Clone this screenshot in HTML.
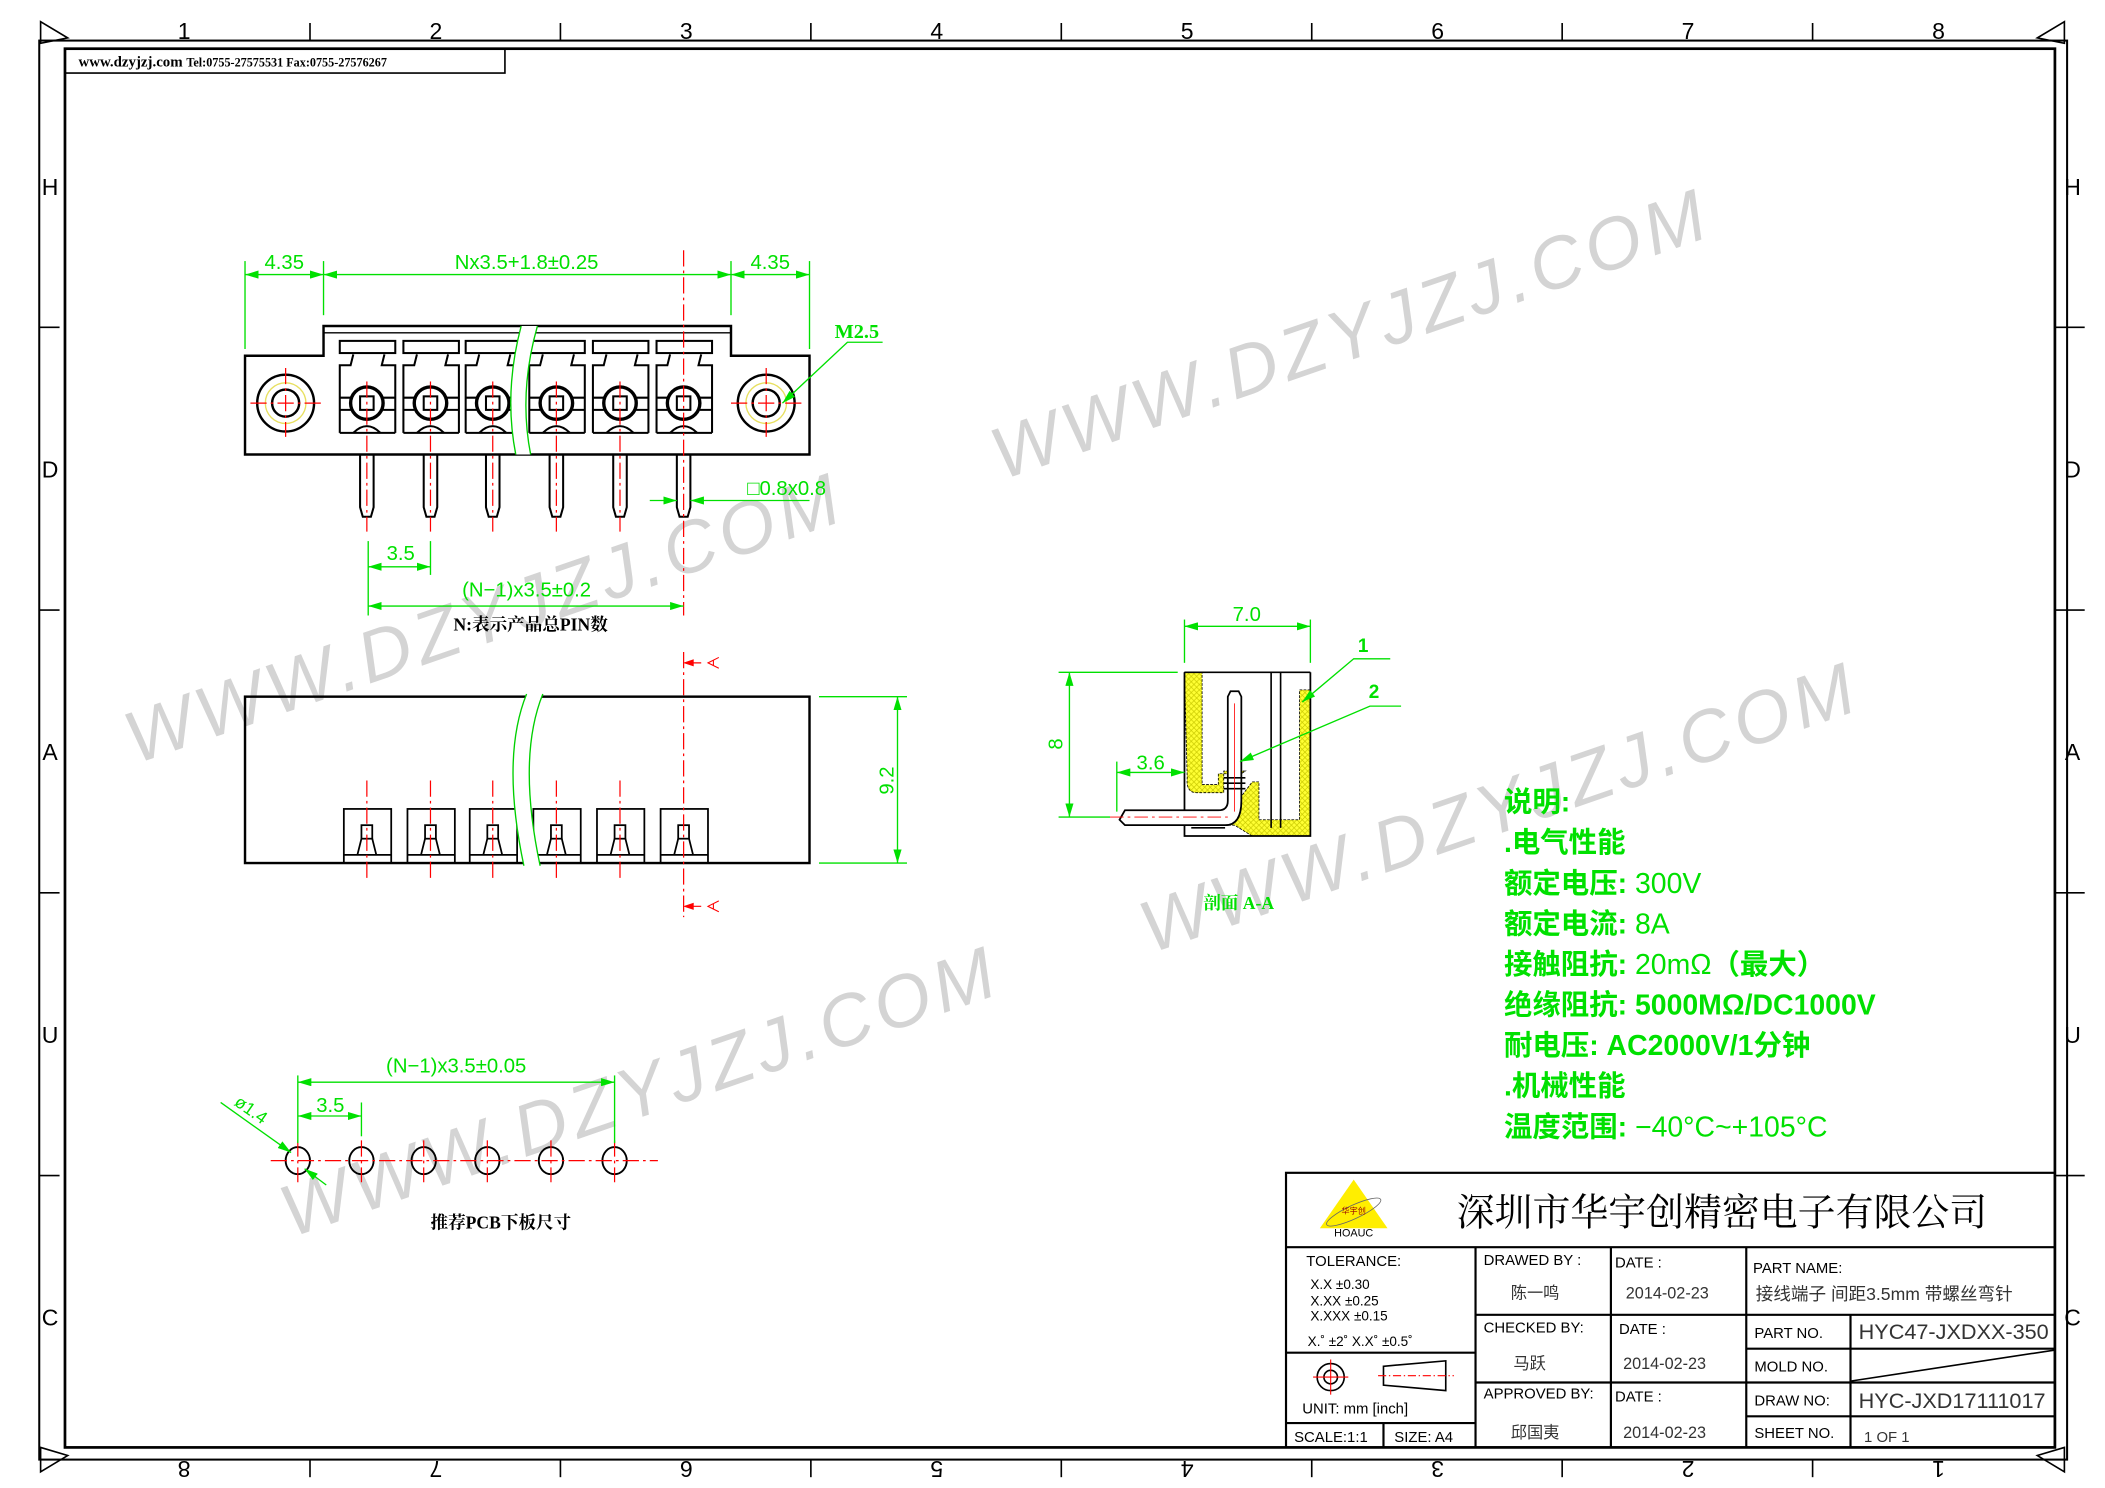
<!DOCTYPE html>
<html><head><meta charset="utf-8"><style>
html,body{margin:0;padding:0;background:#fff;}
svg{display:block;}
text{font-family:"Liberation Sans","Noto Sans CJK SC",sans-serif;}
.s{font-family:"Liberation Serif","Noto Serif CJK SC",serif;}
</style></head><body>
<svg width="2105" height="1488" viewBox="0 0 1555 1100" preserveAspectRatio="none" xmlns="http://www.w3.org/2000/svg">
<defs>
<marker id="ar" viewBox="0 0 10 6" refX="10" refY="3" markerWidth="10" markerHeight="6" orient="auto-start-reverse" markerUnits="userSpaceOnUse"><path d="M0,0L10,3L0,6z" fill="#00e000"/></marker>
<pattern id="hx" width="4" height="4" patternUnits="userSpaceOnUse"><rect width="4" height="4" fill="#ffff33"/><path d="M0,0L4,4M4,0L0,4" stroke="#c8c800" stroke-width="0.5"/></pattern>
</defs>
<rect width="1555" height="1100" fill="#fff"/>
<!-- watermarks -->
<g fill="#d4d4d4" font-size="54" letter-spacing="4" font-style="italic">
<text transform="translate(740,355) rotate(-19)">WWW.DZYJZJ.COM</text>
<text transform="translate(100,565) rotate(-19)">WWW.DZYJZJ.COM</text>
<text transform="translate(850,705) rotate(-19)">WWW.DZYJZJ.COM</text>
<text transform="translate(215,915) rotate(-19)">WWW.DZYJZJ.COM</text>
</g>
<!-- frame -->
<g fill="none" stroke="#000">
<rect x="29" y="30" width="1498" height="1049" stroke-width="1.5"/>
<rect x="48" y="36" width="1470" height="1034" stroke-width="2"/>
</g>
<g stroke="#000" stroke-width="1.2">
<line x1="229" y1="17" x2="229" y2="30"/><line x1="414" y1="17" x2="414" y2="30"/><line x1="599" y1="17" x2="599" y2="30"/><line x1="784" y1="17" x2="784" y2="30"/><line x1="969" y1="17" x2="969" y2="30"/><line x1="1154" y1="17" x2="1154" y2="30"/><line x1="1339" y1="17" x2="1339" y2="30"/>
<line x1="229" y1="1079" x2="229" y2="1092"/><line x1="414" y1="1079" x2="414" y2="1092"/><line x1="599" y1="1079" x2="599" y2="1092"/><line x1="784" y1="1079" x2="784" y2="1092"/><line x1="969" y1="1079" x2="969" y2="1092"/><line x1="1154" y1="1079" x2="1154" y2="1092"/><line x1="1339" y1="1079" x2="1339" y2="1092"/>
<line x1="29" y1="242" x2="44" y2="242"/><line x1="29" y1="451" x2="44" y2="451"/><line x1="29" y1="660" x2="44" y2="660"/><line x1="29" y1="869" x2="44" y2="869"/>
<line x1="1518" y1="242" x2="1540" y2="242"/><line x1="1518" y1="451" x2="1540" y2="451"/><line x1="1518" y1="660" x2="1540" y2="660"/><line x1="1518" y1="869" x2="1540" y2="869"/>
</g>
<g fill="none" stroke="#000" stroke-width="1.2">
<path d="M30,16L50,28L30,32z"/><path d="M1525,16L1505,28L1525,32z"/><path d="M30,1070L50,1076L30,1088z"/><path d="M1525,1070L1505,1076L1525,1088z"/>
</g>
<g font-size="17" fill="#000" text-anchor="middle">
<text x="136" y="29">1</text><text x="322" y="29">2</text><text x="507" y="29">3</text><text x="692" y="29">4</text><text x="877" y="29">5</text><text x="1062" y="29">6</text><text x="1247" y="29">7</text><text x="1432" y="29">8</text>
<g transform="rotate(180 136 1086)"><text x="136" y="1092">8</text></g>
<g transform="rotate(180 322 1086)"><text x="322" y="1092">7</text></g>
<g transform="rotate(180 507 1086)"><text x="507" y="1092">6</text></g>
<g transform="rotate(180 692 1086)"><text x="692" y="1092">5</text></g>
<g transform="rotate(180 877 1086)"><text x="877" y="1092">4</text></g>
<g transform="rotate(180 1062 1086)"><text x="1062" y="1092">3</text></g>
<g transform="rotate(180 1247 1086)"><text x="1247" y="1092">2</text></g>
<g transform="rotate(180 1432 1086)"><text x="1432" y="1092">1</text></g>
<text x="37" y="144">H</text><text x="37" y="353">D</text><text x="37" y="562">A</text><text x="37" y="771">U</text><text x="37" y="980">C</text>
<text x="1531" y="144">H</text><text x="1531" y="353">D</text><text x="1531" y="562">A</text><text x="1531" y="771">U</text><text x="1531" y="980">C</text>
</g>
<rect x="48" y="36" width="325" height="18" fill="none" stroke="#000" stroke-width="1.2"/>
<text x="58" y="49" class="s" font-size="11" font-weight="bold">www.dzyjzj.com <tspan font-size="9">Tel:0755-27575531  Fax:0755-27576267</tspan></text>

<!-- TOP VIEW -->
<g fill="none" stroke="#000" stroke-width="1.8">
<path d="M181,263H239V241H540V263H598V336H181z"/>
<line x1="239" y1="246" x2="540" y2="246" stroke-width="1"/>
<circle cx="211" cy="298" r="21"/><circle cx="211" cy="298" r="10"/>
<circle cx="566" cy="298" r="21"/><circle cx="566" cy="298" r="10"/>
</g>
<circle cx="211" cy="298" r="15" fill="none" stroke="#e8e060" stroke-width="1"/>
<circle cx="566" cy="298" r="15" fill="none" stroke="#e8e060" stroke-width="1"/>
<g fill="none" stroke="#000" stroke-width="1.5">
<g transform="translate(271,0)"><rect x="-20" y="252" width="41" height="9"/><path d="M-20,320V270H-12L-10,262M13,262L11,270H21V320M-20,320H21"/><circle cx="0" cy="298" r="12" stroke-width="2.5"/><rect x="-5" y="293" width="10" height="10"/><path d="M-20,294H-12M12,294H21M-20,303H-12M12,303H21"/><path d="M-10,320Q0,310 10,320" /><path d="M-5,336V375L-3,382H3L5,375V336"/></g>
<g transform="translate(318,0)"><rect x="-20" y="252" width="41" height="9"/><path d="M-20,320V270H-12L-10,262M13,262L11,270H21V320M-20,320H21"/><circle cx="0" cy="298" r="12" stroke-width="2.5"/><rect x="-5" y="293" width="10" height="10"/><path d="M-20,294H-12M12,294H21M-20,303H-12M12,303H21"/><path d="M-10,320Q0,310 10,320" /><path d="M-5,336V375L-3,382H3L5,375V336"/></g>
<g transform="translate(364,0)"><rect x="-20" y="252" width="41" height="9"/><path d="M-20,320V270H-12L-10,262M13,262L11,270H21V320M-20,320H21"/><circle cx="0" cy="298" r="12" stroke-width="2.5"/><rect x="-5" y="293" width="10" height="10"/><path d="M-20,294H-12M12,294H21M-20,303H-12M12,303H21"/><path d="M-10,320Q0,310 10,320" /><path d="M-5,336V375L-3,382H3L5,375V336"/></g>
<g transform="translate(411,0)"><rect x="-20" y="252" width="41" height="9"/><path d="M-20,320V270H-12L-10,262M13,262L11,270H21V320M-20,320H21"/><circle cx="0" cy="298" r="12" stroke-width="2.5"/><rect x="-5" y="293" width="10" height="10"/><path d="M-20,294H-12M12,294H21M-20,303H-12M12,303H21"/><path d="M-10,320Q0,310 10,320" /><path d="M-5,336V375L-3,382H3L5,375V336"/></g>
<g transform="translate(458,0)"><rect x="-20" y="252" width="41" height="9"/><path d="M-20,320V270H-12L-10,262M13,262L11,270H21V320M-20,320H21"/><circle cx="0" cy="298" r="12" stroke-width="2.5"/><rect x="-5" y="293" width="10" height="10"/><path d="M-20,294H-12M12,294H21M-20,303H-12M12,303H21"/><path d="M-10,320Q0,310 10,320" /><path d="M-5,336V375L-3,382H3L5,375V336"/></g>
<g transform="translate(505,0)"><rect x="-20" y="252" width="41" height="9"/><path d="M-20,320V270H-12L-10,262M13,262L11,270H21V320M-20,320H21"/><circle cx="0" cy="298" r="12" stroke-width="2.5"/><rect x="-5" y="293" width="10" height="10"/><path d="M-20,294H-12M12,294H21M-20,303H-12M12,303H21"/><path d="M-10,320Q0,310 10,320" /><path d="M-5,336V375L-3,382H3L5,375V336"/></g>
</g>
<path d="M385,241Q372,290 381,336L392,336Q383,290 397,241z" fill="#fff" stroke="none"/>
<path d="M385,241Q372,290 381,336M397,241Q383,290 392,336" fill="none" stroke="#00d000" stroke-width="1"/>
<g stroke="#ff0000" stroke-width="0.9" stroke-dasharray="12,3,2,3">
<line x1="505" y1="185" x2="505" y2="455"/>
<line x1="271" y1="282" x2="271" y2="393"/><line x1="318" y1="282" x2="318" y2="393"/><line x1="364" y1="282" x2="364" y2="393"/><line x1="411" y1="282" x2="411" y2="393"/><line x1="458" y1="282" x2="458" y2="393"/>
<line x1="185" y1="298" x2="238" y2="298"/><line x1="211" y1="272" x2="211" y2="323"/>
<line x1="540" y1="298" x2="593" y2="298"/><line x1="566" y1="272" x2="566" y2="323"/>
</g>
<g stroke="#00e000" stroke-width="1" fill="none">
<line x1="181" y1="193" x2="181" y2="258"/><line x1="239" y1="193" x2="239" y2="233"/><line x1="540" y1="193" x2="540" y2="233"/><line x1="598" y1="193" x2="598" y2="258"/>
<line x1="181" y1="203" x2="239" y2="203" marker-start="url(#ar)" marker-end="url(#ar)"/>
<line x1="239" y1="203" x2="540" y2="203" marker-start="url(#ar)" marker-end="url(#ar)"/>
<line x1="540" y1="203" x2="598" y2="203" marker-start="url(#ar)" marker-end="url(#ar)"/>
<path d="M578,298L626,253H652" marker-start="url(#ar)"/>
<line x1="480" y1="370" x2="500" y2="370" marker-end="url(#ar)"/><line x1="510" y1="370" x2="598" y2="370" marker-start="url(#ar)"/>
<line x1="272" y1="400" x2="272" y2="455"/><line x1="318" y1="400" x2="318" y2="425"/>
<line x1="272" y1="419" x2="318" y2="419" marker-start="url(#ar)" marker-end="url(#ar)"/>
<line x1="272" y1="448" x2="505" y2="448" marker-start="url(#ar)" marker-end="url(#ar)"/>
</g>
<g fill="#00e000" font-size="15" text-anchor="middle">
<text x="210" y="199">4.35</text><text x="389" y="199">Nx3.5+1.8±0.25</text><text x="569" y="199">4.35</text>
<text x="552" y="366" text-anchor="start">□0.8x0.8</text>
<text x="296" y="414">3.5</text><text x="389" y="441">(N−1)x3.5±0.2</text>
<text x="633" y="250" class="s" font-weight="bold" font-size="15">M2.5</text>
</g>
<text x="392" y="466" class="s" font-size="13" font-weight="bold" text-anchor="middle">N:表示产品总PIN数</text>

<!-- FRONT VIEW -->
<rect x="181" y="515" width="417" height="123" fill="none" stroke="#000" stroke-width="1.8"/>
<g fill="none" stroke="#000" stroke-width="1.3">
<g transform="translate(271,0)"><rect x="-17" y="598" width="35" height="40"/><line x1="-17" y1="632" x2="18" y2="632"/><rect x="-4" y="610" width="8" height="10"/><path d="M-4,620L-7,632M4,620L7,632"/></g>
<g transform="translate(318,0)"><rect x="-17" y="598" width="35" height="40"/><line x1="-17" y1="632" x2="18" y2="632"/><rect x="-4" y="610" width="8" height="10"/><path d="M-4,620L-7,632M4,620L7,632"/></g>
<g transform="translate(364,0)"><rect x="-17" y="598" width="35" height="40"/><line x1="-17" y1="632" x2="18" y2="632"/><rect x="-4" y="610" width="8" height="10"/><path d="M-4,620L-7,632M4,620L7,632"/></g>
<g transform="translate(411,0)"><rect x="-17" y="598" width="35" height="40"/><line x1="-17" y1="632" x2="18" y2="632"/><rect x="-4" y="610" width="8" height="10"/><path d="M-4,620L-7,632M4,620L7,632"/></g>
<g transform="translate(458,0)"><rect x="-17" y="598" width="35" height="40"/><line x1="-17" y1="632" x2="18" y2="632"/><rect x="-4" y="610" width="8" height="10"/><path d="M-4,620L-7,632M4,620L7,632"/></g>
<g transform="translate(505,0)"><rect x="-17" y="598" width="35" height="40"/><line x1="-17" y1="632" x2="18" y2="632"/><rect x="-4" y="610" width="8" height="10"/><path d="M-4,620L-7,632M4,620L7,632"/></g>
</g>
<path d="M389,513Q370,560 387,640L399,640Q382,560 401,513z" fill="#fff"/>
<path d="M389,513Q370,560 387,640M401,513Q382,560 399,640" fill="none" stroke="#00d000" stroke-width="1"/>
<g stroke="#ff0000" stroke-width="0.9" stroke-dasharray="12,3,2,3">
<line x1="505" y1="482" x2="505" y2="678"/>
<line x1="271" y1="577" x2="271" y2="650"/><line x1="318" y1="577" x2="318" y2="650"/><line x1="364" y1="577" x2="364" y2="650"/><line x1="411" y1="577" x2="411" y2="650"/><line x1="458" y1="577" x2="458" y2="650"/>
</g>
<g stroke="#ff0000" fill="#ff0000" stroke-width="0.9"><path d="M506,490H518"/><path d="M506,490l6,-2v4z"/><path d="M506,670H518"/><path d="M506,670l6,-2v4z"/></g>
<g fill="none" stroke="#ff0000" stroke-width="0.8"><path d="M531,486L523,490L531,494M527,488V492"/><path d="M531,666L523,670L531,674M527,668V672"/></g>
<g stroke="#00e000" stroke-width="1" fill="none">
<line x1="605" y1="515" x2="670" y2="515"/><line x1="605" y1="638" x2="670" y2="638"/>
<line x1="663" y1="515" x2="663" y2="638" marker-start="url(#ar)" marker-end="url(#ar)"/>
</g>
<text transform="translate(660,577) rotate(-90)" fill="#00e000" font-size="15" text-anchor="middle">9.2</text>

<!-- SECTION A-A -->
<g>
<path d="M875,497H888V580H900V572H916V590L925,578H930V606H960V510H968V618H925L912,610H905Q915,600 912,590V575L920,570H904V586H884Q876,586 877,575z" fill="url(#hx)" stroke="#000" stroke-width="0.6" stroke-dasharray="2,1"/>
<path d="M875,497V618H968V497" fill="none" stroke="#000" stroke-width="1.3"/>
<line x1="875" y1="497" x2="968" y2="497" stroke="#000" stroke-width="1.2"/>
<line x1="939" y1="497" x2="939" y2="612" stroke="#000" stroke-width="1.2"/>
<line x1="946" y1="497" x2="946" y2="612" stroke="#000" stroke-width="1.2"/>
<line x1="880" y1="612" x2="905" y2="612" stroke="#000" stroke-width="1.2"/>
<path d="M907,592V515L909,511H915L917,515V592Q917,610 905,610H831L827,606L831,599H900Q907,599 907,592z" fill="#fff" stroke="#000" stroke-width="1.3"/>
<path d="M904,575H920M904,579H920M904,583H920" stroke="#000" stroke-width="1.2"/>
<line x1="912" y1="520" x2="912" y2="600" stroke="#ff0000" stroke-width="0.6"/>
<line x1="820" y1="604" x2="910" y2="604" stroke="#ff0000" stroke-width="0.6" stroke-dasharray="10,3,2,3"/>
</g>
<g stroke="#00e000" stroke-width="1" fill="none">
<line x1="875" y1="458" x2="875" y2="490"/><line x1="968" y1="458" x2="968" y2="490"/>
<line x1="875" y1="463" x2="968" y2="463" marker-start="url(#ar)" marker-end="url(#ar)"/>
<line x1="782" y1="497" x2="870" y2="497"/><line x1="782" y1="604" x2="820" y2="604"/>
<line x1="790" y1="497" x2="790" y2="604" marker-start="url(#ar)" marker-end="url(#ar)"/>
<line x1="825" y1="563" x2="825" y2="600"/>
<line x1="825" y1="571" x2="875" y2="571" marker-start="url(#ar)" marker-end="url(#ar)"/>
<path d="M1027,487H1000L962,519" marker-end="url(#ar)"/>
<path d="M1035,522H1012L916,563" marker-end="url(#ar)"/>
</g>
<g fill="#00e000" text-anchor="middle">
<text x="921" y="459" font-size="15">7.0</text>
<text x="850" y="569" font-size="15">3.6</text>
<text transform="translate(785,550) rotate(-90)" font-size="15">8</text>
<text x="1007" y="482" font-size="14" font-weight="bold">1</text>
<text x="1015" y="516" font-size="14" font-weight="bold">2</text>
<text x="915" y="672" class="s" font-size="13" font-weight="bold">剖面 A-A</text>
</g>

<!-- PCB -->
<g fill="none" stroke="#000" stroke-width="1.4">
<ellipse cx="220" cy="858" rx="9" ry="10"/><ellipse cx="267" cy="858" rx="9" ry="10"/><ellipse cx="313" cy="858" rx="9" ry="10"/><ellipse cx="360" cy="858" rx="9" ry="10"/><ellipse cx="407" cy="858" rx="9" ry="10"/><ellipse cx="454" cy="858" rx="9" ry="10"/>
</g>
<g stroke="#ff0000" stroke-width="0.9" stroke-dasharray="12,3,2,3">
<line x1="200" y1="858" x2="486" y2="858"/>
<line x1="220" y1="843" x2="220" y2="874"/><line x1="267" y1="843" x2="267" y2="874"/><line x1="313" y1="843" x2="313" y2="874"/><line x1="360" y1="843" x2="360" y2="874"/><line x1="407" y1="843" x2="407" y2="874"/><line x1="454" y1="843" x2="454" y2="874"/>
</g>
<g stroke="#00e000" stroke-width="1" fill="none">
<line x1="220" y1="795" x2="220" y2="845"/><line x1="454" y1="795" x2="454" y2="845"/><line x1="267" y1="815" x2="267" y2="840"/>
<line x1="220" y1="800" x2="454" y2="800" marker-start="url(#ar)" marker-end="url(#ar)"/>
<line x1="220" y1="825" x2="267" y2="825" marker-start="url(#ar)" marker-end="url(#ar)"/>
<line x1="163" y1="815" x2="215" y2="852" marker-end="url(#ar)"/><line x1="241" y1="876" x2="225" y2="864" marker-end="url(#ar)"/>
</g>
<g fill="#00e000" font-size="15" text-anchor="middle">
<text x="337" y="793">(N−1)x3.5±0.05</text>
<text x="244" y="822">3.5</text>
<text transform="translate(183,824) rotate(35)" font-size="13">ø1.4</text>
</g>
<text x="370" y="908" class="s" font-size="13" font-weight="bold" text-anchor="middle">推荐PCB下板尺寸</text>

<!-- SPECS -->
<g font-size="21" font-weight="bold" fill="#00e000" font-family="'Liberation Serif','Noto Serif CJK SC',serif">
<text x="1111" y="600">说明:</text>
<text x="1111" y="630">.电气性能</text>
<text x="1111" y="660">额定电压: <tspan font-weight="normal" font-family="'Liberation Sans',sans-serif">300V</tspan></text>
<text x="1111" y="690">额定电流: <tspan font-weight="normal" font-family="'Liberation Sans',sans-serif">8A</tspan></text>
<text x="1111" y="720">接触阻抗: <tspan font-weight="normal" font-family="'Liberation Sans',sans-serif">20mΩ</tspan>（最大）</text>
<text x="1111" y="750">绝缘阻抗: 5000MΩ/DC1000V</text>
<text x="1111" y="780">耐电压: AC2000V/1分钟</text>
<text x="1111" y="810">.机械性能</text>
<text x="1111" y="840">温度范围: <tspan font-weight="normal" font-family="'Liberation Sans',sans-serif">−40°C~+105°C</tspan></text>
</g>

<!-- TITLE BLOCK -->
<g fill="none" stroke="#000" stroke-width="1.6">
<rect x="950" y="867" width="568" height="203"/>
<line x1="950" y1="922" x2="1518" y2="922"/>
<line x1="1090" y1="922" x2="1090" y2="1070"/><line x1="1190" y1="922" x2="1190" y2="1070"/><line x1="1290" y1="922" x2="1290" y2="1070"/><line x1="1367" y1="972" x2="1367" y2="1070"/>
<line x1="1090" y1="972" x2="1518" y2="972"/><line x1="1090" y1="1022" x2="1518" y2="1022"/>
<line x1="1290" y1="997" x2="1518" y2="997"/><line x1="1290" y1="1047" x2="1518" y2="1047"/>
<line x1="950" y1="1000" x2="1090" y2="1000"/><line x1="950" y1="1052" x2="1090" y2="1052"/><line x1="1022" y1="1052" x2="1022" y2="1070"/>
<line x1="1367" y1="1021" x2="1518" y2="998" stroke-width="1.2"/>
</g>
<path d="M1000,872L1025,908H975z" fill="#ffee00"/>
<ellipse cx="1000" cy="896" rx="22" ry="5" transform="rotate(-25 1000 896)" fill="none" stroke="#666" stroke-width="0.6"/>
<text x="1000" y="897" font-size="6" text-anchor="middle" fill="#900">华宇创</text>
<text x="1000" y="914" font-size="8" text-anchor="middle" fill="#000">HOAUC</text>
<text x="1272" y="906" class="s" font-size="28" text-anchor="middle">深圳市华宇创精密电子有限公司</text>
<g font-size="11" fill="#000">
<text x="965" y="936">TOLERANCE:</text>
<text x="968" y="953" font-size="10">X.X      ±0.30</text>
<text x="968" y="965" font-size="10">X.XX    ±0.25</text>
<text x="968" y="976" font-size="10">X.XXX  ±0.15</text>
<text x="966" y="995" font-size="10">X.˚ ±2˚      X.X˚ ±0.5˚</text>
<text x="962" y="1045">UNIT:  mm  [inch]</text>
<text x="956" y="1066">SCALE:1:1</text><text x="1030" y="1066">SIZE:  A4</text>
<text x="1096" y="935">DRAWED  BY  :</text><text x="1096" y="985">CHECKED  BY:</text><text x="1096" y="1034">APPROVED  BY:</text>
<text x="1193" y="937">DATE  :</text><text x="1196" y="986">DATE  :</text><text x="1193" y="1036">DATE  :</text>
<text x="1295" y="941">PART  NAME:</text>
<text x="1296" y="989">PART  NO.</text><text x="1296" y="1014">MOLD  NO.</text><text x="1296" y="1039">DRAW  NO:</text><text x="1296" y="1063">SHEET  NO.</text>
</g>
<g class="s" font-size="12" fill="#333">
<text x="1116" y="960">陈一鸣</text><text x="1118" y="1012">马跃</text><text x="1116" y="1063">邱国夷</text>
<text x="1201" y="960">2014-02-23</text><text x="1199" y="1012">2014-02-23</text><text x="1199" y="1063">2014-02-23</text>
<text x="1297" y="961" font-size="13">接线端子 间距3.5mm 带螺丝弯针</text>
<text x="1373" y="990" font-size="16">HYC47-JXDXX-350</text>
<text x="1373" y="1041" font-size="16">HYC-JXD17111017</text>
<text x="1377" y="1066" font-size="11">1 OF 1</text>
</g>
<g fill="none" stroke="#000" stroke-width="1.2">
<circle cx="983" cy="1018" r="10"/><circle cx="983" cy="1018" r="5"/>
<path d="M1022,1010L1068,1006V1028L1022,1024z"/>
</g>
<g stroke="#ff0000" stroke-width="0.8"><line x1="970" y1="1018" x2="996" y2="1018"/><line x1="983" y1="1005" x2="983" y2="1031"/><line x1="1018" y1="1017" x2="1074" y2="1017" stroke-dasharray="6,2,1,2"/></g>
</svg>
</body></html>
